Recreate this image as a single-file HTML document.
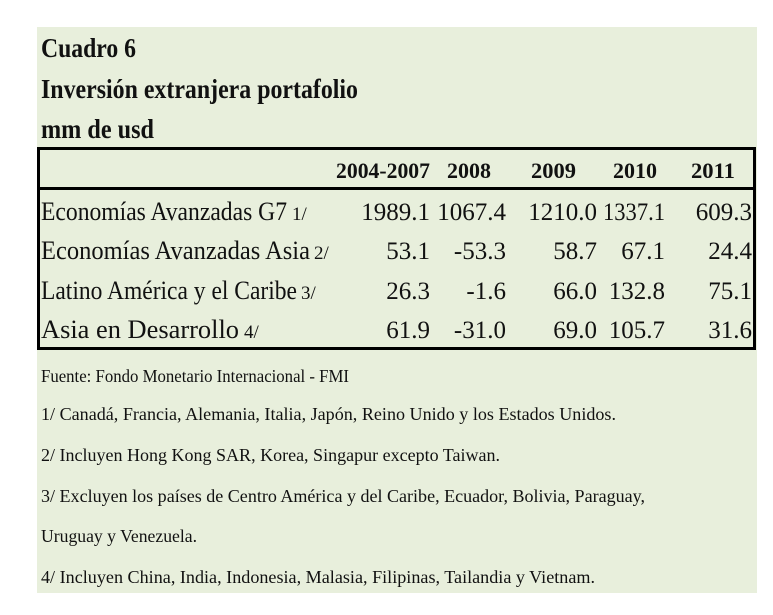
<!DOCTYPE html>
<html><head><meta charset="utf-8"><style>
html,body{margin:0;padding:0;background:#fff;}
svg{display:block;}
text{font-family:"Liberation Serif","Times New Roman",serif;fill:#111;}
.b{font-weight:bold;}
</style></head><body>
<svg width="773" height="615" viewBox="0 0 773 615" xmlns="http://www.w3.org/2000/svg">
<rect x="0" y="0" width="773" height="615" fill="#fff"/>
<rect x="37" y="27" width="720" height="566" fill="#e8efdc"/>
<text class="b" x="41" y="57" font-size="27" textLength="95" lengthAdjust="spacingAndGlyphs">Cuadro 6</text>
<text class="b" x="41" y="98" font-size="27" textLength="317" lengthAdjust="spacingAndGlyphs">Inversión extranjera portafolio</text>
<text class="b" x="41" y="138" font-size="27" textLength="113" lengthAdjust="spacingAndGlyphs">mm de usd</text>
<rect x="38.5" y="148.5" width="716" height="200" fill="none" stroke="#000" stroke-width="3"/>
<line x1="38" y1="188.5" x2="755" y2="188.5" stroke="#000" stroke-width="3"/>
<g class="b" font-size="22">
<text class="b" x="336" y="178" textLength="94" lengthAdjust="spacingAndGlyphs">2004-2007</text>
<text class="b" x="447" y="178" textLength="44" lengthAdjust="spacingAndGlyphs">2008</text>
<text class="b" x="531" y="178" textLength="45" lengthAdjust="spacingAndGlyphs">2009</text>
<text class="b" x="613" y="178" textLength="44" lengthAdjust="spacingAndGlyphs">2010</text>
<text class="b" x="691" y="178" textLength="44" lengthAdjust="spacingAndGlyphs">2011</text>
</g>
<g font-size="25" text-anchor="end">
<text x="430" y="220">1989.1</text><text x="506" y="220">1067.4</text><text x="597" y="220">1210.0</text><text x="665" y="220" textLength="62" lengthAdjust="spacingAndGlyphs">1337.1</text><text x="752" y="220">609.3</text>
<text x="430" y="259">53.1</text><text x="506" y="259">-53.3</text><text x="597" y="259">58.7</text><text x="665" y="259">67.1</text><text x="752" y="259">24.4</text>
<text x="430" y="299">26.3</text><text x="506" y="299">-1.6</text><text x="597" y="299">66.0</text><text x="665" y="299">132.8</text><text x="752" y="299">75.1</text>
<text x="430" y="338">61.9</text><text x="506" y="338">-31.0</text><text x="597" y="338">69.0</text><text x="665" y="338">105.7</text><text x="752" y="338">31.6</text>
</g>
<g font-size="26">
<text x="41" y="220" textLength="246" lengthAdjust="spacingAndGlyphs">Economías Avanzadas G7</text><text x="292" y="220" font-size="19">1/</text>
<text x="41" y="259" textLength="269" lengthAdjust="spacingAndGlyphs">Economías Avanzadas Asia</text><text x="314" y="259" font-size="19">2/</text>
<text x="41" y="299" textLength="256" lengthAdjust="spacingAndGlyphs">Latino América y el Caribe</text><text x="301" y="299" font-size="19">3/</text>
<text x="41" y="338" textLength="198" lengthAdjust="spacingAndGlyphs">Asia en Desarrollo</text><text x="244" y="338" font-size="19">4/</text>
</g>
<g font-size="18">
<text x="41" y="382" textLength="308" lengthAdjust="spacingAndGlyphs">Fuente: Fondo Monetario Internacional - FMI</text>
<text x="41" y="420" textLength="575" lengthAdjust="spacingAndGlyphs">1/ Canadá, Francia, Alemania, Italia, Japón, Reino Unido y los Estados Unidos.</text>
<text x="41" y="461" textLength="459" lengthAdjust="spacingAndGlyphs">2/ Incluyen Hong Kong SAR, Korea, Singapur excepto Taiwan.</text>
<text x="41" y="502" textLength="604" lengthAdjust="spacingAndGlyphs">3/ Excluyen los países de Centro América y del Caribe, Ecuador, Bolivia, Paraguay,</text>
<text x="41" y="542" textLength="156" lengthAdjust="spacingAndGlyphs">Uruguay y Venezuela.</text>
<text x="41" y="583" textLength="554" lengthAdjust="spacingAndGlyphs">4/ Incluyen China, India, Indonesia, Malasia, Filipinas, Tailandia y Vietnam.</text>
</g>
</svg>
</body></html>
